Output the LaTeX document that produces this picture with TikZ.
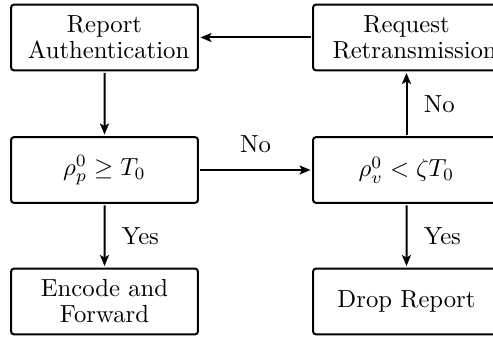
\documentclass[tikz,border=0pt]{standalone}
\usetikzlibrary{arrows.meta}
\begin{document}
\begin{tikzpicture}[x=1pt,y=-1pt,
  box/.style={draw, line width=2pt, rounded corners=3.2pt, minimum width=75.7pt, minimum height=26.7pt, inner sep=0pt, align=center, scale=2.47, font=\fontsize{10}{10.5}\selectfont},
  conn/.style={line width=2pt, -{Stealth[length=11pt,width=9pt,inset=2.5pt]}},
  lblr/.style={scale=2.47, anchor=west, inner sep=6pt},
  lbla/.style={scale=2.47, anchor=south, inner sep=6pt}]
\useasboundingbox (0,0) rectangle (493,339);
\clip (0,0) rectangle (493,339);
\node[box] (auth) at (104.5,37.5) {Report\\\hspace*{3.33pt}Authentication};
\node[box] (req) at (406.5,37.5) {Request\\\hspace*{6.6pt}Retransmission};
\node[box] (cp) at (104.5,170) {$\rho_p^0 \geq T_0$};
\node[box] (cv) at (406.5,170) {$\rho_v^0 < \zeta T_0$};
\node[box] (enc) at (104.5,301.5) {Encode and\\Forward};
\node[box] (drop) at (406.5,301.5) {Drop Report};
\draw[conn] (req) -- (auth);
\draw[conn] (auth) -- (cp);
\draw[conn] (cp) -- node[lblr] (ly1) {Yes} (enc);
\draw[conn] (cp) -- node[lbla] (ln1) {No} (cv);
\draw[conn] (cv) -- node[lblr] (ln2) {No} (req);
\draw[conn] (cv) -- node[lblr] (ly2) {Yes} (drop);
\end{tikzpicture}
\end{document}
